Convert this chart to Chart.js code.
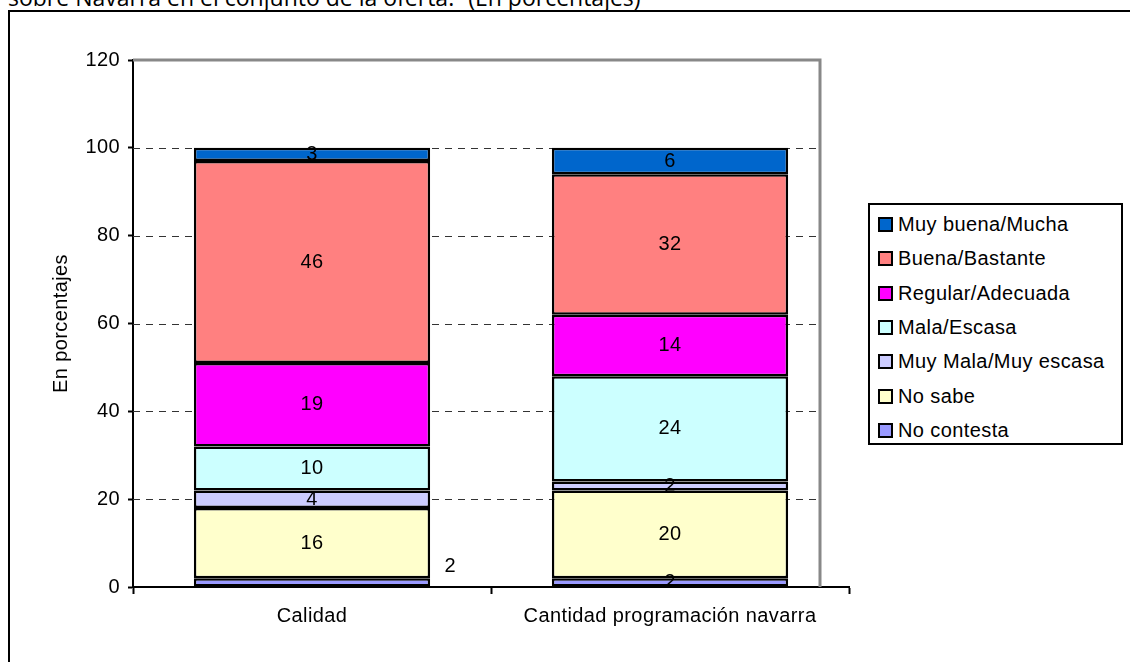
<!DOCTYPE html>
<html>
<head>
<meta charset="utf-8">
<script src="https://cdn.jsdelivr.net/npm/chart.js@4"></script>
<style>
  html, body { margin: 0; padding: 0; width: 1130px; height: 662px; overflow: hidden; background: #fff; }
  #title { position: absolute; left: 8px; top: -14px; font: 23px/23px "Open Sans", sans-serif; white-space: nowrap; color: #000; }
  #frame { position: absolute; left: 8px; top: 10px; width: 1200px; height: 800px; border-left: 2px solid #000; border-top: 2px solid #000; }
  #wrap { position: absolute; left: 0; top: 0; width: 1130px; height: 662px; }
  #legend { position: absolute; left: 868px; top: 203px; width: 251px; height: 238px; border: 2px solid #000; background: #fff;
            font: 20px "Liberation Sans", Arial, sans-serif; letter-spacing: 0.4px; }
  #legend div { position: absolute; left: 8px; height: 22px; line-height: 22px; white-space: nowrap; }
  #legend span { display: inline-block; width: 11px; height: 11px; border: 2px solid #000; margin-right: 5px; vertical-align: -1px; }
</style>
</head>
<body>
<div id="title">sobre Navarra en el conjunto de la oferta.”  (En porcentajes)</div>
<div id="frame"></div>
<div id="wrap"><canvas id="chart" width="1130" height="662"></canvas></div>
<div id="legend"></div>
<script>
// categorías y series (de abajo hacia arriba en la pila)
const categories = ['Calidad', 'Cantidad programación navarra'];
const seriesNames = ['No contesta', 'No sabe', 'Muy Mala/Muy escasa', 'Mala/Escasa', 'Regular/Adecuada', 'Buena/Bastante', 'Muy buena/Mucha'];
const noContesta = [2, 2];
const noSabe = [16, 20];
const muyMala = [4, 2];
const mala = [10, 24];
const regular = [19, 14];
const buena = [46, 32];
const muyBuena = [3, 6];
const yTicks = [0, 20, 40, 60, 80, 100, 120];

const seriesValues = [noContesta, noSabe, muyMala, mala, regular, buena, muyBuena];
const seriesColors = ['#9999FF', '#FFFFCC', '#CCCCFF', '#CCFFFF', '#FF00FF', '#FF8080', '#0066CC'];

const FONT = '"Liberation Sans", Arial, sans-serif';
const PLOT_RIGHT = 820; // borde gris del área de trazado

// leyenda HTML (orden inverso: arriba la última serie)
const legend = document.getElementById('legend');
seriesNames.slice().reverse().forEach((name, i) => {
  const idx = seriesNames.length - 1 - i;
  const row = document.createElement('div');
  row.style.top = (8 + i * 34.3) + 'px';
  row.innerHTML = `<span style="background:${seriesColors[idx]}"></span>${name}`;
  legend.appendChild(row);
});

// espaciado de letras como en el original
const spacingPlugin = {
  id: 'spacing',
  beforeDraw(chart) { chart.ctx.letterSpacing = '0.4px'; }
};

// cuadrícula discontinua y marco gris
const framePlugin = {
  id: 'frame',
  beforeDatasetsDraw(chart) {
    const { ctx, chartArea, scales } = chart;
    const y = scales.y;
    ctx.save();
    ctx.strokeStyle = '#333';
    ctx.lineWidth = 1;
    ctx.setLineDash([7, 6]);
    yTicks.filter(v => v > 0 && v < 120).forEach(v => {
      const py = Math.round(y.getPixelForValue(v)) + 0.5;
      ctx.beginPath();
      ctx.moveTo(chartArea.left, py);
      ctx.lineTo(PLOT_RIGHT, py);
      ctx.stroke();
    });
    ctx.setLineDash([]);
    ctx.strokeStyle = '#888';
    ctx.lineWidth = 3;
    const top = y.getPixelForValue(120);
    ctx.beginPath();
    ctx.moveTo(chartArea.left, top);
    ctx.lineTo(PLOT_RIGHT, top);
    ctx.lineTo(PLOT_RIGHT, chartArea.bottom);
    ctx.stroke();
    ctx.restore();
  }
};

// etiquetas de valor dentro de cada segmento
const labelPlugin = {
  id: 'labels',
  afterDatasetsDraw(chart) {
    const { ctx } = chart;
    ctx.save();
    ctx.font = '20px ' + FONT;
    ctx.letterSpacing = '0.4px';
    ctx.fillStyle = '#000';
    ctx.textAlign = 'center';
    ctx.textBaseline = 'middle';
    chart.data.datasets.forEach((ds, di) => {
      chart.getDatasetMeta(di).data.forEach((bar, i) => {
        let x = bar.x;
        let yy = (bar.y + bar.base) / 2;
        // el "2" de No contesta en Calidad está fuera, a la derecha
        if (di === 0 && i === 0) {
          x = bar.x + bar.width / 2 + 20;
          yy = bar.base - 20;
        }
        ctx.fillText(String(ds.data[i]), x, yy);
      });
    });
    ctx.restore();
  }
};

new Chart(document.getElementById('chart'), {
  type: 'bar',
  data: {
    labels: categories,
    datasets: seriesValues.map((vals, i) => ({
      label: seriesNames[i],
      data: vals,
      backgroundColor: seriesColors[i],
      borderColor: '#000',
      borderWidth: 2.5,
      borderSkipped: false,
      categoryPercentage: 1,
      barPercentage: 0.66
    }))
  },
  options: {
    responsive: false,
    animation: false,
    layout: { padding: { top: 60, right: 281, bottom: 0, left: 0 } },
    plugins: {
      legend: { display: false },
      tooltip: { enabled: false }
    },
    scales: {
      x: {
        stacked: true,
        afterFit: s => { s.height = 75; },
        grid: { drawOnChartArea: false, tickLength: 7, tickColor: '#000', tickWidth: 2 },
        border: { color: '#000', width: 2 },
        ticks: { color: '#000', padding: 10, font: { family: FONT, size: 20 } }
      },
      y: {
        stacked: true,
        min: 0,
        max: 120,
        afterFit: s => { s.width = 133; },
        afterBuildTicks: s => { s.ticks = yTicks.map(v => ({ value: v })); },
        grid: { drawOnChartArea: false, tickLength: 5, tickColor: '#000', tickWidth: 2 },
        border: { color: '#000', width: 2 },
        ticks: { color: '#000', padding: 8, font: { family: FONT, size: 20 } },
        title: {
          display: true,
          text: 'En porcentajes',
          color: '#000',
          font: { family: FONT, size: 20 },
          padding: { top: 49, bottom: 0 }
        }
      }
    }
  },
  plugins: [spacingPlugin, framePlugin, labelPlugin]
});
</script>
</body>
</html>
